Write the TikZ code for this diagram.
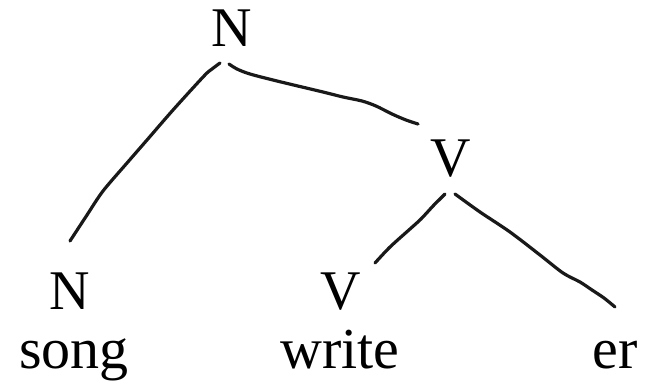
\documentclass[tikz,border=0pt]{standalone}
\usepackage{fontspec}
\setmainfont{Liberation Serif}
\begin{document}
\begin{tikzpicture}[x=1pt,y=-1pt,
  lab/.style={inner sep=0pt,anchor=base,font=\fontsize{56}{56}\selectfont},
  word/.style={inner sep=0pt,anchor=base,font=\fontsize{58}{58}\selectfont},
  hand/.style={line width=3.2pt,color=black!90,line cap=round,line join=round}]
\useasboundingbox (0,0) rectangle (646,384);
% labels
\node[lab] (Ntop) at (231.5,46) {N};
\node[lab] (Vmid) at (451,176) {V};
\node[lab] (Nbot) at (69.5,309) {N};
\node[lab] (Vbot) at (341,309) {V};
\node[word] (song) at (74,368) {song};
\node[word] (write) at (340,368) {write};
\node[word] (er) at (615,368) {er};
% waypoints: N -> N
\coordinate (a0) at (220,63);
\coordinate (a1) at (212,69);
\coordinate (a2) at (204,76);
\coordinate (a3) at (173,110);
\coordinate (a4) at (147,140);
\coordinate (a5) at (127,163);
\coordinate (a6) at (103,191);
\coordinate (a7) at (87,215);
\coordinate (a8) at (70,241);
% N -> V
\coordinate (b0) at (229,64);
\coordinate (b1) at (237,69);
\coordinate (b2) at (250,74);
\coordinate (b3) at (277,81);
\coordinate (b4) at (323,92);
\coordinate (b5) at (343,97);
\coordinate (b6) at (362,101);
\coordinate (b7) at (376,106);
\coordinate (b8) at (392,114);
\coordinate (b9) at (406,120);
\coordinate (b10) at (418,124);
% V -> V
\coordinate (c0) at (445,194);
\coordinate (c1) at (440,199);
\coordinate (c2) at (433,206);
\coordinate (c3) at (421,219);
\coordinate (c4) at (410,229);
\coordinate (c5) at (390,247);
\coordinate (c6) at (375,263);
% V -> er
\coordinate (d0) at (455,194);
\coordinate (d1) at (480,212);
\coordinate (d2) at (510,232);
\coordinate (d3) at (540,255);
\coordinate (d4) at (563,273);
\coordinate (d5) at (580,282);
\coordinate (d6) at (592,290);
\coordinate (d7) at (604,298);
\coordinate (d8) at (615,307);
\draw[hand] plot[smooth,tension=0.5] coordinates {(a0) (a1) (a2) (a3) (a4) (a5) (a6) (a7) (a8)};
\draw[hand] plot[smooth,tension=0.5] coordinates {(b0) (b1) (b2) (b3) (b4) (b5) (b6) (b7) (b8) (b9) (b10)};
\draw[hand] plot[smooth,tension=0.5] coordinates {(c0) (c1) (c2) (c3) (c4) (c5) (c6)};
\draw[hand] plot[smooth,tension=0.5] coordinates {(d0) (d1) (d2) (d3) (d4) (d5) (d6) (d7) (d8)};
\end{tikzpicture}
\end{document}
